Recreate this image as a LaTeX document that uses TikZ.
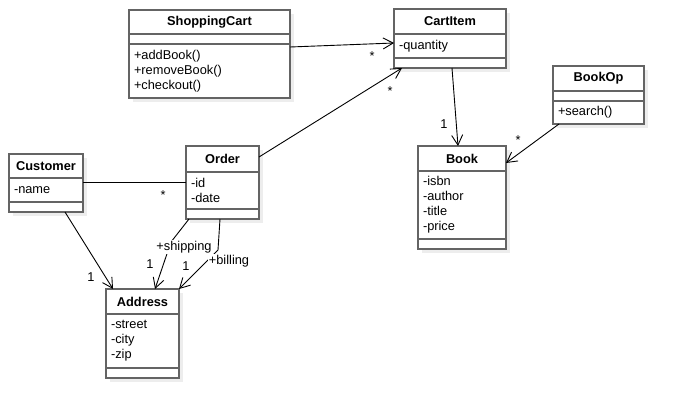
\documentclass[tikz,border=0pt]{standalone}
\usepackage{fontspec}
\setmainfont{Liberation Sans}
\usetikzlibrary{arrows.meta,backgrounds}
\definecolor{boxgray}{RGB}{100,100,100}
\tikzset{
  cls/.style={draw=boxgray, line width=2pt, fill=white, rectangle, outer sep=0pt, inner sep=0pt, anchor=north west},
  clsname/.style={cls, font=\fontsize{12.8}{15}\selectfont\bfseries},
  clsbody/.style={cls, inner xsep=5pt, align=left, font=\fontsize{12.8}{15}\selectfont},
  clsshadow/.style={fill=black!7},
  assoc/.style={draw, line width=0.9pt, -{Straight Barb[length=10pt,width=11pt]}},
  lbl/.style={font=\fontsize{12.8}{15}\selectfont, inner sep=1pt, anchor=base}
}

\begin{document}
\begin{tikzpicture}[x=1pt,y=-1pt]
\useasboundingbox (0,0) rectangle (685,418);

\node[clsname, minimum width=161pt, minimum height=24pt] (cart) at (129,10) {ShoppingCart};
\node[clsbody, text width=151pt, minimum height=10pt] (cartatt) at (cart.south west) {};
\node[clsbody, text width=151pt, minimum height=54pt] (cartop) at (cartatt.south west) {+addBook()\\+removeBook()\\+checkout()};

\node[clsname, minimum width=112pt, minimum height=25pt] (item) at (394,9) {CartItem};
\node[clsbody, text width=102pt, minimum height=24pt] (itematt) at (item.south west) {-quantity};
\node[clsbody, text width=102pt, minimum height=10pt] (itemop) at (itematt.south west) {};

\node[clsname, minimum width=91pt, minimum height=25pt] (bookop) at (553,66) {BookOp};
\node[clsbody, text width=81pt, minimum height=10pt] (bookopatt) at (bookop.south west) {};
\node[clsbody, text width=81pt, minimum height=23pt] (bookopop) at (bookopatt.south west) {+search()};

\node[clsname, minimum width=88pt, minimum height=25pt] (book) at (418,146) {Book};
\node[clsbody, text width=78pt, minimum height=68pt] (bookatt) at (book.south west) {-isbn\\-author\\-title\\-price};
\node[clsbody, text width=78pt, minimum height=10pt] (bookop2) at (bookatt.south west) {};

\node[clsname, minimum width=74pt, minimum height=24pt] (cust) at (9,154) {Customer};
\node[clsbody, text width=64pt, minimum height=24pt] (custatt) at (cust.south west) {-name};
\node[clsbody, text width=64pt, minimum height=10pt] (custop) at (custatt.south west) {};

\node[clsname, minimum width=73pt, minimum height=26pt] (order) at (186,146) {Order};
\node[clsbody, text width=63pt, minimum height=37pt] (orderatt) at (order.south west) {-id\\-date};
\node[clsbody, text width=63pt, minimum height=10pt] (orderop) at (orderatt.south west) {};

\node[clsname, minimum width=73pt, minimum height=25pt] (addr) at (106,289) {Address};
\node[clsbody, text width=63pt, minimum height=54pt] (addratt) at (addr.south west) {-street\\-city\\-zip};
\node[clsbody, text width=63pt, minimum height=10pt] (addrop) at (addratt.south west) {};

\begin{scope}[on background layer]
\fill[white] (0,0) rectangle (685,418);
\foreach \top/\bot in {cart/cartop, item/itemop, bookop/bookopop, book/bookop2, cust/custop, order/orderop, addr/addrop}
  \fill[clsshadow] ([shift={(4pt,-4pt)}]\top.north west) rectangle ([shift={(4pt,-4pt)}]\bot.south east);
\end{scope}

\path[assoc] ([yshift=-3pt]cartop.north east) -- ([yshift=3pt]itematt.west);
\path[assoc] ([yshift=2pt]order.east) -- ([xshift=8pt]itemop.south west);
\path[assoc] ([xshift=2pt]itemop.south) -- ([xshift=-4pt]book.north);
\path[assoc] ([xshift=6pt]bookopop.south west) -- ([yshift=-4.5pt]book.east);
\path[draw, line width=0.9pt] ([yshift=-4pt]custatt.north east) -- ([yshift=-10pt]orderatt.north west);
\path[assoc] ([xshift=56pt]custop.south west) -- ([xshift=7pt]addr.north west);
\path[assoc] ([xshift=3pt]orderop.south west) -- ++(-18,23) -- ([xshift=49pt]addr.north west);
\path[assoc] ([xshift=34pt]orderop.south west) -- ++(-2,31) -- (addr.north east);

\node[lbl] (m1) at (372,60) {*};
\node[lbl] (m2) at (390,95) {*};
\node[lbl] (m3) at (518,144) {*};
\node[lbl] (m4) at (163,199) {*};
\node[lbl] (n1) at (444,128) {1};
\node[lbl] (n2) at (91,281.5) {1};
\node[lbl] (n3) at (150,268.5) {1};
\node[lbl] (n4) at (186,270.5) {1};
\node[lbl, fill=white] (ship) at (184,250) {+shipping};
\node[lbl, fill=white] (bill) at (229,264) {+billing};
\end{tikzpicture}
\end{document}
